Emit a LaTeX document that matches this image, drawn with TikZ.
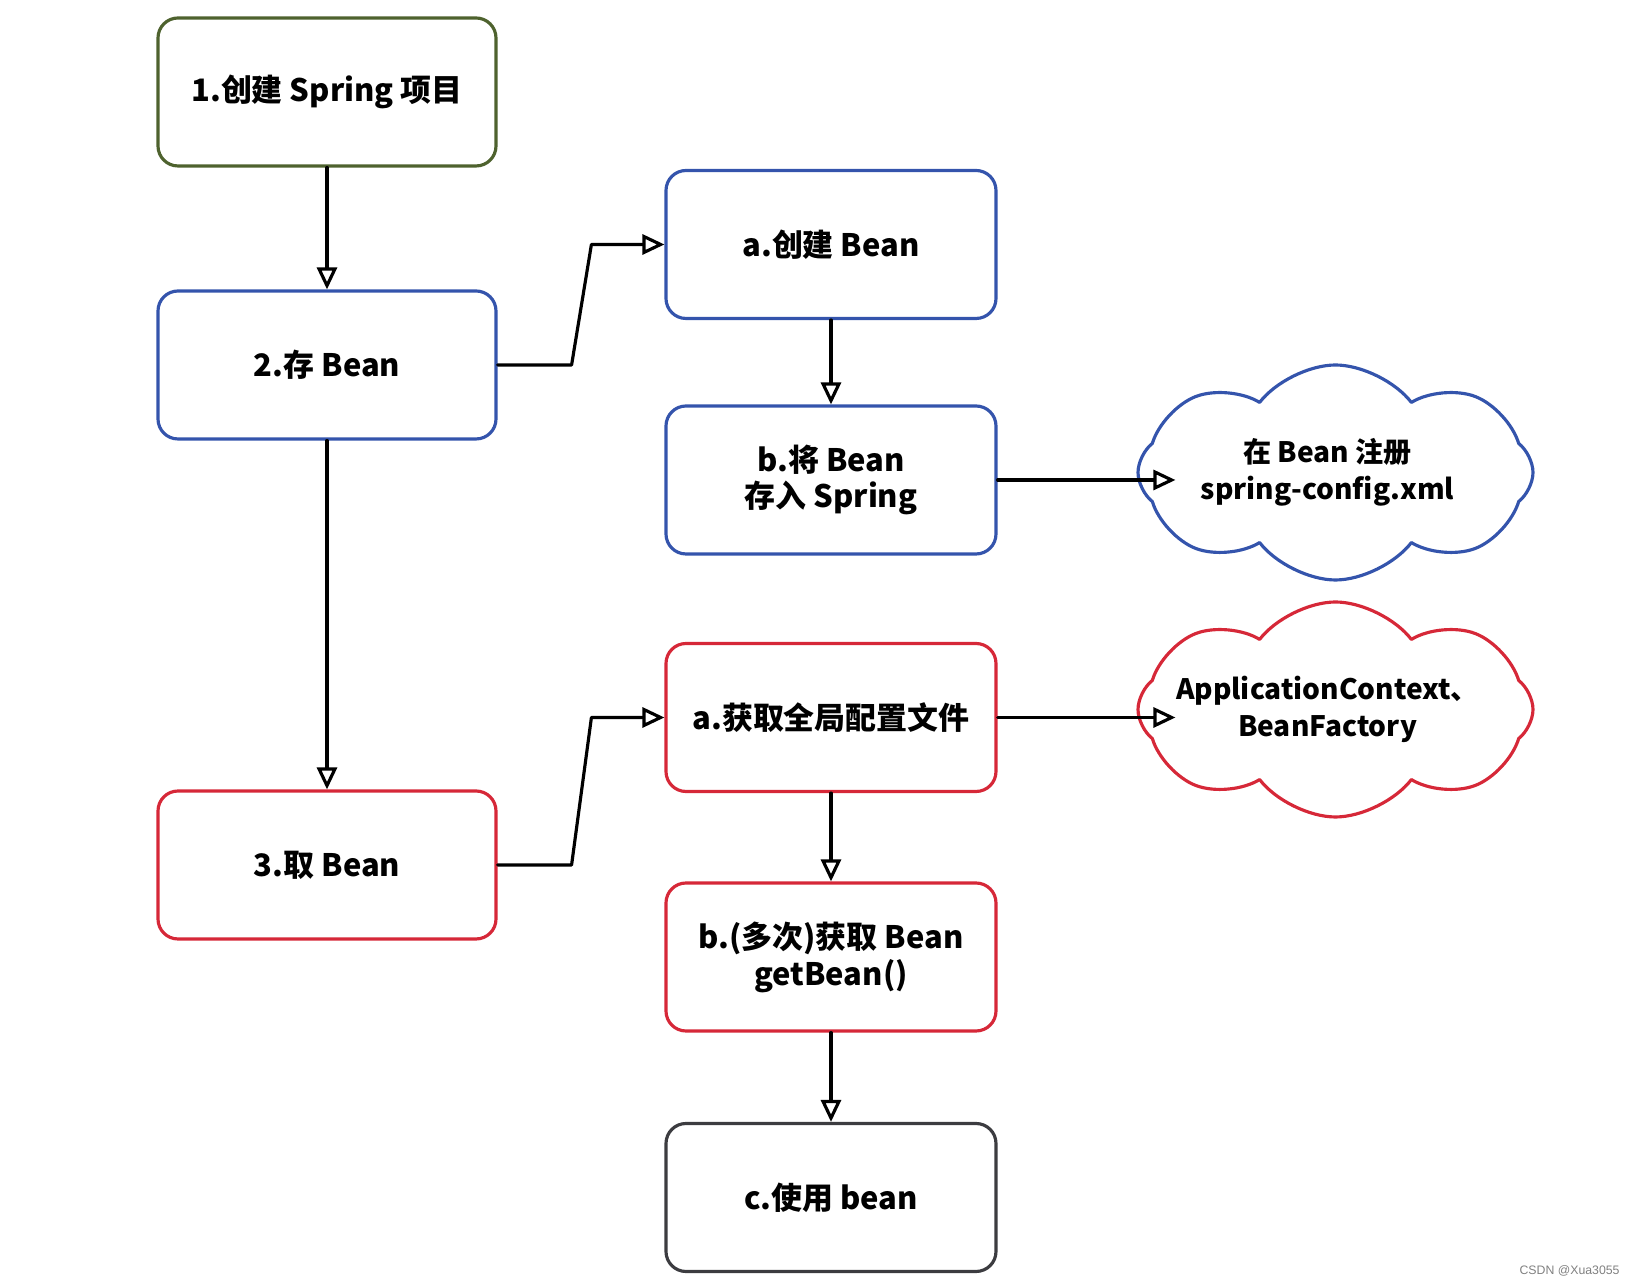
\documentclass[tikz,border=0pt]{standalone}
\usepackage{fontspec}
\setmainfont{Noto Sans CJK SC}
\newfontfamily\wmfont{Liberation Sans}
\usetikzlibrary{arrows.meta,shapes.symbols}
\definecolor{xanhla}{RGB}{78,98,46}
\definecolor{xanhduong}{RGB}{52,84,172}
\definecolor{do}{RGB}{214,40,56}
\definecolor{xam}{RGB}{60,60,64}
\begin{document}
\begin{tikzpicture}[line join=round,line cap=round,font=\fontsize{8.8}{10.5}\selectfont\bfseries,>={Triangle[open,length=2.2mm,width=2mm]},
		boxnode/.style={draw,line width=0.9pt,rounded corners=2mm,minimum width=3.38cm,minimum height=1.48cm,align=center,inner sep=1pt},
		cloudnode/.style={cloud,draw,line width=0.9pt,cloud puffs=8,cloud puff arc=105,cloud ignores aspect,minimum width=3.95cm,minimum height=2.15cm,inner sep=0pt},
		cloudtext/.style={align=center,xshift=-0.08cm,font=\fontsize{8}{10.5}\selectfont\bfseries},
		arrowline/.style={->,line width=0.9pt,black}]% khung
				\useasboundingbox (0,0) rectangle (16.39,-12.80);
				\node[boxnode,draw=xanhla] (n1) at (3.27,-0.92) {1.创建 Spring 项目};
				\node[boxnode,draw=xanhduong] (n2) at (3.27,-3.65) {2.存 Bean};
				\node[boxnode,draw=do] (n3) at (3.27,-8.65) {3.取 Bean};
				\begin{scope}[boxnode/.append style={minimum width=3.3cm}]% cột phải
				\node[boxnode,draw=xanhduong] (a1) at (8.31,-2.445) {a.创建 Bean};
				\node[boxnode,draw=xanhduong] (b1) at (8.31,-4.80) {b.将 Bean\\存入 Spring};
				\node[boxnode,draw=do] (a2) at (8.31,-7.175) {a.获取全局配置文件};
				\node[boxnode,draw=do] (b2) at (8.31,-9.57) {b.(多次)获取 Bean\\getBean()};
				\node[boxnode,draw=xam] (c2) at (8.31,-11.975) {c.使用 bean};
				\end{scope}
				\node[cloudnode,draw=xanhduong,label={[cloudtext]center:{在 Bean 注册\\spring-config.xml}}] (m1) at (13.355,-4.725) {};
				\node[cloudnode,draw=do,label={[cloudtext]center:{ApplicationContext、\\BeanFactory}}] (m2) at (13.355,-7.095) {};
				% mũi tên
				\foreach \x/\y in {n1/n2,n2/n3,a1/b1,a2/b2,b2/c2%dọc
				}{\draw[arrowline] (\x)--(\y);}
				\path (n2.east) ++(0.74,0) coordinate (K1) (a1.west) ++(-0.73,0) coordinate (K2);
				\path (n3.east) ++(0.74,0) coordinate (K3) (a2.west) ++(-0.73,0) coordinate (K4);
				\draw[arrowline] (n2.east)--(K1)--(K2)--(a1.west);
				\draw[arrowline] (n3.east)--(K3)--(K4)--(a2.west);
				\draw[arrowline] (b1.east)--([xshift=3.9mm]b1.east-|m1.west);
				\draw[arrowline] (a2.east)--([xshift=3.9mm]a2.east-|m2.west);
				\path (16.32,-12.71) node[anchor=east,text=gray,font=\wmfont\fontsize{3.5}{4}\selectfont] (wm) {CSDN @Xua3055};
			\end{tikzpicture}
\end{document}
